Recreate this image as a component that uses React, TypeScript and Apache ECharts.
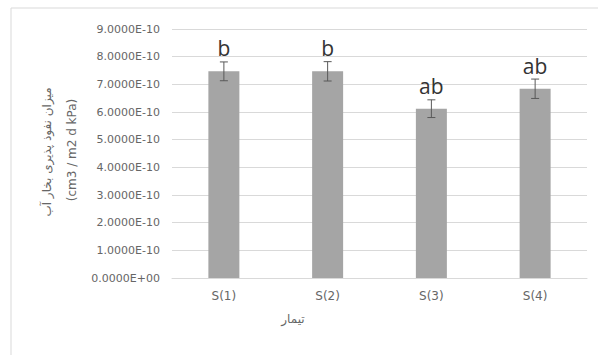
import React, { useEffect, useRef } from "react";
import * as echarts from "echarts";

// values in units of 1e-10 (cm3 / m2 d kPa)
const categories = ["S(1)", "S(2)", "S(3)", "S(4)"];
const values = [7.47, 7.47, 6.12, 6.84];
const errors = [0.34, 0.35, 0.32, 0.35];
const letters = ["b", "b", "ab", "ab"];
const yTicks = [0, 1, 2, 3, 4, 5, 6, 7, 8, 9];
const yTitle1 = "میزان نفوذ پذیری بخار آب";
const yTitle2 = "(cm3 / m2 d kPa)";
const xTitle = "تیمار";

function fmt(v: number): string {
  if (Math.abs(v) < 1e-9) return "0.0000E+00";
  return v.toFixed(4) + "E-10";
}

export default function App() {
  const ref = useRef<HTMLDivElement>(null);
  useEffect(() => {
    document.body.style.margin = "0";
    const chart = echarts.init(ref.current!, undefined, { renderer: "svg" });
    const font = "DejaVu Sans";
    chart.setOption({
      animation: false,
      backgroundColor: "#ffffff",
      grid: { left: 172, right: 11, top: 29, bottom: 77 },
      xAxis: {
        type: "category",
        data: categories,
        axisLine: { show: true, lineStyle: { color: "#d9d9d9", width: 1 } },
        axisTick: { show: false },
        axisLabel: { color: "#666", fontFamily: font, fontSize: 12, margin: 12 },
      },
      yAxis: {
        type: "value",
        min: yTicks[0],
        max: yTicks[yTicks.length - 1],
        interval: 1,
        axisLine: { show: false },
        axisTick: { show: false },
        splitLine: { lineStyle: { color: "#d9d9d9", width: 1 } },
        axisLabel: {
          color: "#666",
          fontFamily: font,
          fontSize: 11,
          margin: 12,
          formatter: (v: number) => fmt(v),
        },
      },
      graphic: [
        {
          type: "rect",
          shape: { x: 11, y: 8, width: 620, height: 400 },
          style: { fill: "none", stroke: "#d9d9d9", lineWidth: 1 },
          silent: true,
          z: -10,
        },
        {
          type: "text",
          x: 47,
          y: 152,
          rotation: Math.PI / 2,
          style: {
            text: yTitle1,
            fill: "#666",
            font: `12px "${font}"`,
            align: "center",
            verticalAlign: "middle",
          },
        },
        {
          type: "text",
          x: 72,
          y: 150,
          rotation: Math.PI / 2,
          style: {
            text: yTitle2,
            fill: "#666",
            font: `12px "${font}"`,
            align: "center",
            verticalAlign: "middle",
          },
        },
        {
          type: "text",
          x: 293,
          y: 319,
          style: {
            text: xTitle,
            fill: "#666",
            font: `12px "${font}"`,
            align: "center",
            verticalAlign: "middle",
          },
        },
      ],
      series: [
        {
          type: "bar",
          data: values,
          barWidth: 31,
          itemStyle: { color: "#a5a5a5" },
          z: 2,
        },
        {
          type: "custom",
          z: 5,
          data: values.map((v, i) => [i, v, errors[i]]),
          renderItem: (params: any, api: any) => {
            const i = api.value(0);
            const v = api.value(1);
            const e = api.value(2);
            const top = api.coord([i, v + e]);
            const bot = api.coord([i, v - e]);
            const cap = 4;
            const st = { stroke: "#595959", lineWidth: 1 };
            return {
              type: "group",
              children: [
                { type: "line", shape: { x1: top[0], y1: top[1], x2: bot[0], y2: bot[1] }, style: st },
                { type: "line", shape: { x1: top[0] - cap, y1: top[1], x2: top[0] + cap, y2: top[1] }, style: st },
                { type: "line", shape: { x1: bot[0] - cap, y1: bot[1], x2: bot[0] + cap, y2: bot[1] }, style: st },
                {
                  type: "text",
                  x: top[0],
                  y: top[1] - 3,
                  style: {
                    text: letters[params.dataIndex],
                    fill: "#333",
                    font: '21px "Open Sans"',
                    align: "center",
                    verticalAlign: "bottom",
                  },
                },
              ],
            };
          },
        },
      ],
    });
    return () => chart.dispose();
  }, []);
  return <div ref={ref} style={{ width: 598, height: 355 }} />;
}
